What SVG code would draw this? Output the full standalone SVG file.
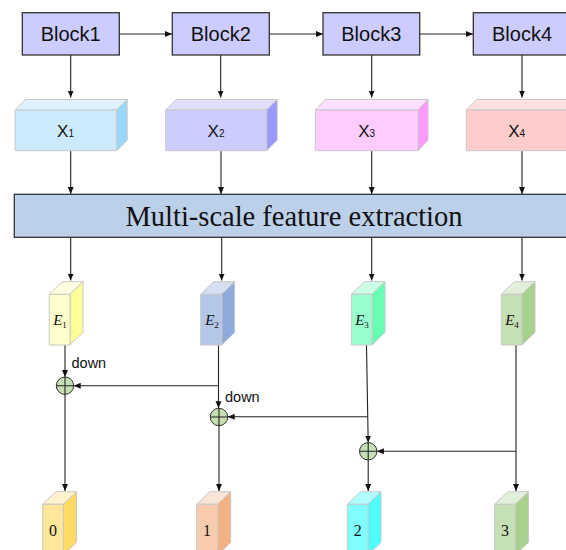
<svg xmlns="http://www.w3.org/2000/svg" width="566" height="550" viewBox="0 0 566 550">
<defs>
<style>
.blk{fill:#ccccff;stroke:#333;stroke-width:1.3}
.bt{font-family:"Liberation Sans",Arial,sans-serif;font-size:20px;fill:#111;text-anchor:middle}
.xt{font-family:"Liberation Sans",Arial,sans-serif;font-size:17px;fill:#111;text-anchor:middle}
.et{font-family:"Liberation Serif","Times New Roman",serif;font-size:15px;font-style:italic;fill:#111;text-anchor:middle}
.dt{font-family:"Liberation Serif","Times New Roman",serif;font-size:16px;fill:#111;text-anchor:middle}
.lbl{font-family:"Liberation Sans",Arial,sans-serif;font-size:14.5px;fill:#111}
.pr{stroke:#c8c8c8;stroke-width:1;stroke-linejoin:round}
.ln{fill:none;stroke:#222;stroke-width:1.1}
.sum{fill:#c5e0b4;stroke:#333;stroke-width:1}
</style>
<marker id="ah" markerUnits="userSpaceOnUse" markerWidth="8" markerHeight="8" viewBox="0 0 8 8" refX="7" refY="4" orient="auto">
<path d="M0,1 L7,4 L0,7 Z" fill="#111"/>
</marker>
</defs>
<rect width="566" height="550" fill="#fff"/>

<g id="connectors">
<path class="ln" d="M119.3,34 H172" marker-end="url(#ah)"/>
<path class="ln" d="M269.3,34 H323" marker-end="url(#ah)"/>
<path class="ln" d="M419.7,34 H473" marker-end="url(#ah)"/>
<path class="ln" d="M70.7,55 V97.5" marker-end="url(#ah)"/>
<path class="ln" d="M220.7,55 V97.5" marker-end="url(#ah)"/>
<path class="ln" d="M371.7,55 V97.5" marker-end="url(#ah)"/>
<path class="ln" d="M522,55 V97.5" marker-end="url(#ah)"/>
<path class="ln" d="M70.7,150.7 V194" marker-end="url(#ah)"/>
<path class="ln" d="M221,150.7 V194" marker-end="url(#ah)"/>
<path class="ln" d="M371.7,150.7 V194" marker-end="url(#ah)"/>
<path class="ln" d="M522,150.7 V194" marker-end="url(#ah)"/>
<path class="ln" d="M70.7,237.3 V280.5" marker-end="url(#ah)"/>
<path class="ln" d="M221.7,237.3 V280.5" marker-end="url(#ah)"/>
<path class="ln" d="M371.7,237.3 V280.5" marker-end="url(#ah)"/>
<path class="ln" d="M522,237.3 V280.5" marker-end="url(#ah)"/>
<path class="ln" d="M65,345 V377" marker-end="url(#ah)"/>
<path class="ln" d="M65,394.4 V491" marker-end="url(#ah)"/>
<path class="ln" d="M218.5,345 V408.3" marker-end="url(#ah)"/>
<path class="ln" d="M218.5,385.7 H73.7" marker-end="url(#ah)"/>
<path class="ln" d="M219,425.7 V491" marker-end="url(#ah)"/>
<path class="ln" d="M366.5,345 L368.2,442.6" marker-end="url(#ah)"/>
<path class="ln" d="M367.4,416.7 H227.7" marker-end="url(#ah)"/>
<path class="ln" d="M368.2,460 V491" marker-end="url(#ah)"/>
<path class="ln" d="M516,345 V491" marker-end="url(#ah)"/>
<path class="ln" d="M516,451.3 H376.9" marker-end="url(#ah)"/>
</g>

<g id="block1"><rect class="blk" x="22.3" y="12.7" width="97" height="42.3"/><text class="bt" x="70.7" y="40.7">Block1</text></g>
<g id="block2"><rect class="blk" x="172.3" y="12.7" width="97" height="42.3"/><text class="bt" x="220.8" y="40.7">Block2</text></g>
<g id="block3"><rect class="blk" x="323" y="12.7" width="96.7" height="42.3"/><text class="bt" x="371.3" y="40.7">Block3</text></g>
<g id="block4"><rect class="blk" x="473.3" y="12.7" width="97" height="42.3"/><text class="bt" x="522" y="40.7">Block4</text></g>

<g id="x1">
<polygon class="pr" fill="#e0f2fd" points="15,110 25.5,99.5 127.2,99.5 116.7,110"/>
<polygon class="pr" fill="#99d8fb" points="116.7,110 127.2,99.5 127.2,140.2 116.7,150.7"/>
<rect class="pr" fill="#cdeafc" x="15" y="110" width="101.7" height="40.7"/>
<text class="xt" x="65.5" y="137.3">X<tspan font-size="10">1</tspan></text>
</g>
<g id="x2">
<polygon class="pr" fill="#e0e0fd" points="165.7,110 176.2,99.5 277.2,99.5 266.7,110"/>
<polygon class="pr" fill="#9999ff" points="266.7,110 277.2,99.5 277.2,140.2 266.7,150.7"/>
<rect class="pr" fill="#ccccff" x="165.7" y="110" width="101" height="40.7"/>
<text class="xt" x="216" y="137.3">X<tspan font-size="10">2</tspan></text>
</g>
<g id="x3">
<polygon class="pr" fill="#ffe0ff" points="315.3,110 325.3,99.5 428,99.5 418,110"/>
<polygon class="pr" fill="#ff99ff" points="418,110 428,99.5 428,140.2 418,150.7"/>
<rect class="pr" fill="#ffccff" x="315.3" y="110" width="102.7" height="40.7"/>
<text class="xt" x="366.7" y="137.3">X<tspan font-size="10">3</tspan></text>
</g>
<g id="x4">
<polygon class="pr" fill="#ffe0e0" points="466.3,110 476.8,99.5 578,99.5 567.5,110"/>
<polygon class="pr" fill="#ff9999" points="567.5,110 578,99.5 578,140.2 567.5,150.7"/>
<rect class="pr" fill="#ffcccc" x="466.3" y="110" width="101.2" height="40.7"/>
<text class="xt" x="516.7" y="137.3">X<tspan font-size="10">4</tspan></text>
</g>

<g id="msfe">
<rect x="14.3" y="194.3" width="560" height="43" fill="#bdd0e9" stroke="#333" stroke-width="1.3"/>
<text x="294" y="225.5" font-family="'Liberation Serif','Times New Roman',serif" font-size="28.5" fill="#111" text-anchor="middle">Multi-scale feature extraction</text>
</g>

<g id="e1">
<polygon class="pr" fill="#ffffe0" points="49.3,294.3 62.3,281.7 83,281.7 70,294.3"/>
<polygon class="pr" fill="#ffff99" points="70,294.3 83,281.7 83,332.4 70,345"/>
<rect class="pr" fill="#ffffcc" x="49.3" y="294.3" width="20.7" height="50.7"/>
<text class="et" x="60" y="325">E<tspan font-size="9" font-style="normal" dy="2.5">1</tspan></text>
</g>
<g id="e2">
<polygon class="pr" fill="#d6e0f2" points="200.7,294.3 213.7,281.7 234.7,281.7 221.7,294.3"/>
<polygon class="pr" fill="#8faadc" points="221.7,294.3 234.7,281.7 234.7,332.4 221.7,345"/>
<rect class="pr" fill="#b4c7e7" x="200.7" y="294.3" width="21" height="50.7"/>
<text class="et" x="212" y="325">E<tspan font-size="9" font-style="normal" dy="2.5">2</tspan></text>
</g>
<g id="e3">
<polygon class="pr" fill="#ccffe6" points="351.3,294.3 364.3,281.7 385,281.7 372,294.3"/>
<polygon class="pr" fill="#66ffb3" points="372,294.3 385,281.7 385,332.4 372,345"/>
<rect class="pr" fill="#99ffcc" x="351.3" y="294.3" width="20.7" height="50.7"/>
<text class="et" x="362" y="325">E<tspan font-size="9" font-style="normal" dy="2.5">3</tspan></text>
</g>
<g id="e4">
<polygon class="pr" fill="#e2f0d9" points="501.3,294.3 514.3,281.7 535,281.7 522,294.3"/>
<polygon class="pr" fill="#a9d18e" points="522,294.3 535,281.7 535,332.4 522,345"/>
<rect class="pr" fill="#c5e0b4" x="501.3" y="294.3" width="20.7" height="50.7"/>
<text class="et" x="512" y="325">E<tspan font-size="9" font-style="normal" dy="2.5">4</tspan></text>
</g>

<g id="sum1"><circle class="sum" cx="65" cy="385.7" r="8.7"/><path class="ln" d="M56.3,385.7 H73.7 M65,377 V394.4"/></g>
<g id="sum2"><circle class="sum" cx="219" cy="417" r="8.7"/><path class="ln" d="M210.3,417 H227.7 M219,408.3 V425.7"/></g>
<g id="sum3"><circle class="sum" cx="368.2" cy="451.3" r="8.7"/><path class="ln" d="M359.5,451.3 H376.9 M368.2,442.6 V460"/></g>

<text class="lbl" x="71.5" y="368">down</text>
<text class="lbl" x="225" y="402.3">down</text>

<g id="out0">
<polygon class="pr" fill="#fff2cc" points="42.7,504.3 55.7,491.7 76.4,491.7 63.4,504.3"/>
<polygon class="pr" fill="#ffd966" points="63.4,504.3 76.4,491.7 76.4,542.4 63.4,555"/>
<rect class="pr" fill="#ffe699" x="42.7" y="504.3" width="20.7" height="50.7"/>
<text class="dt" x="53" y="535.5">0</text>
</g>
<g id="out1">
<polygon class="pr" fill="#fbe5d6" points="196.7,504.3 209.7,491.7 230.7,491.7 217.7,504.3"/>
<polygon class="pr" fill="#f4b183" points="217.7,504.3 230.7,491.7 230.7,542.4 217.7,555"/>
<rect class="pr" fill="#f8cbad" x="196.7" y="504.3" width="21" height="50.7"/>
<text class="dt" x="207" y="535.5">1</text>
</g>
<g id="out2">
<polygon class="pr" fill="#b3ffff" points="347.3,504.3 360.3,491.7 381,491.7 368,504.3"/>
<polygon class="pr" fill="#4dffff" points="368,504.3 381,491.7 381,542.4 368,555"/>
<rect class="pr" fill="#80ffff" x="347.3" y="504.3" width="20.7" height="50.7"/>
<text class="dt" x="357.8" y="535.5">2</text>
</g>
<g id="out3">
<polygon class="pr" fill="#e2f0d9" points="494.7,504.3 507.7,491.7 528.4,491.7 515.4,504.3"/>
<polygon class="pr" fill="#a9d18e" points="515.4,504.3 528.4,491.7 528.4,542.4 515.4,555"/>
<rect class="pr" fill="#c5e0b4" x="494.7" y="504.3" width="20.7" height="50.7"/>
<text class="dt" x="505" y="535.5">3</text>
</g>
</svg>
